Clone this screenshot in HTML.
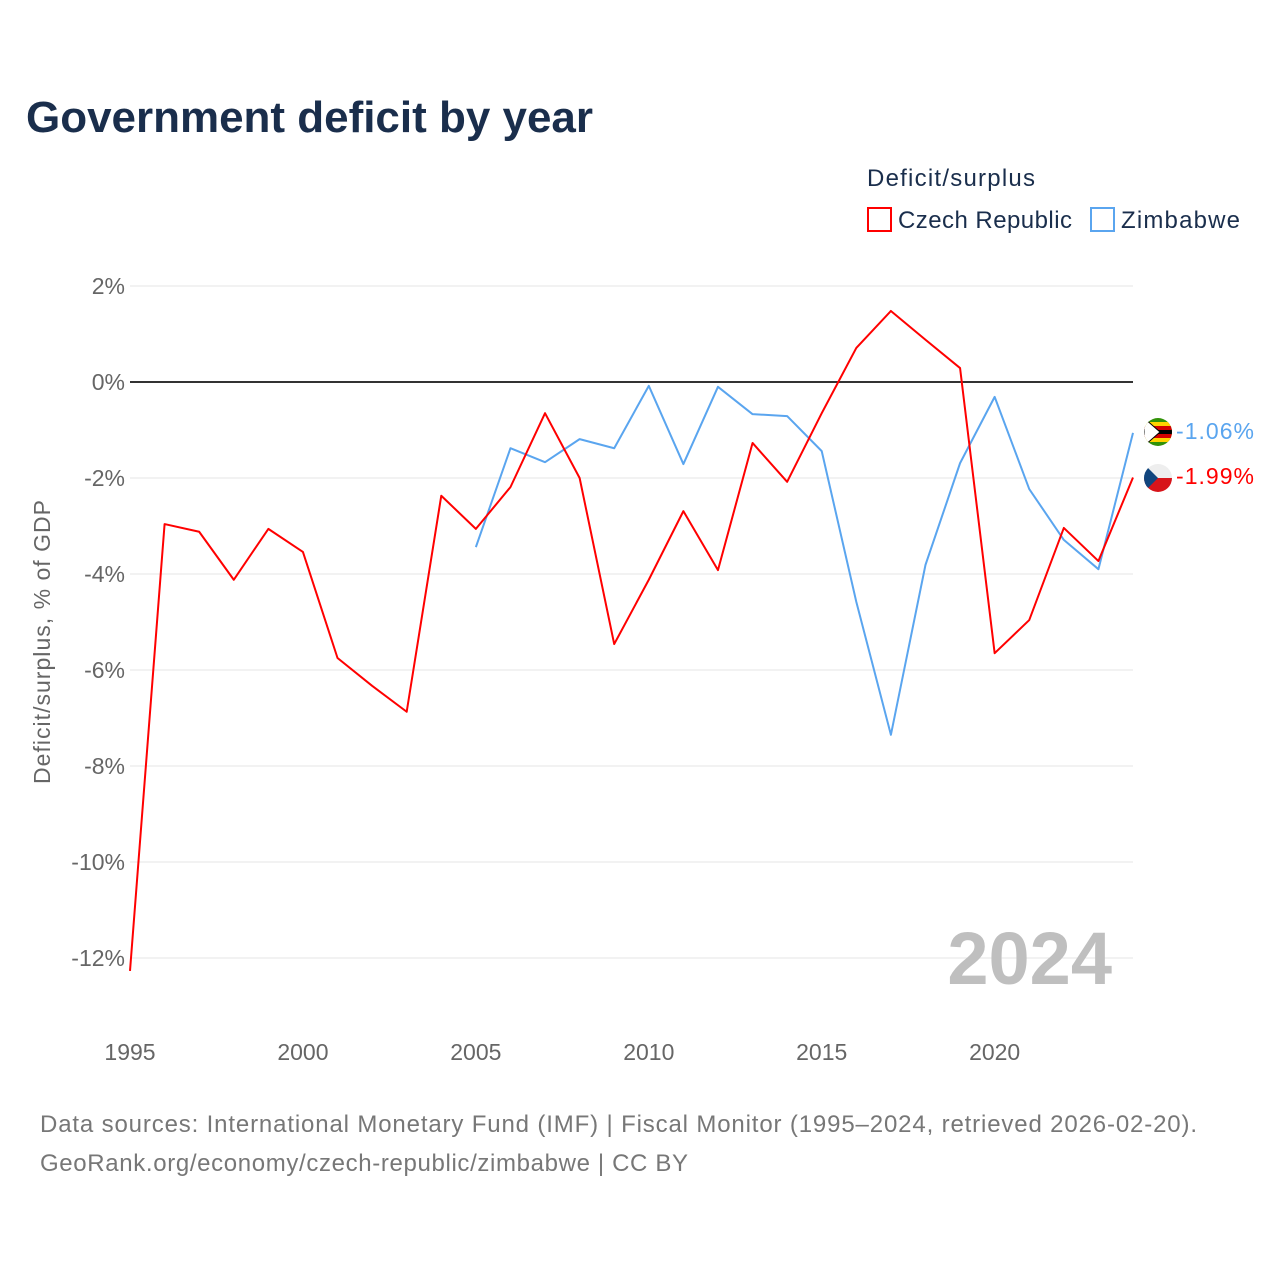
<!DOCTYPE html>
<html><head><meta charset="utf-8"><style>
body{margin:0;background:#fff;font-family:"Liberation Sans",sans-serif;}
svg text{font-family:"Liberation Sans",sans-serif;}
</style></head><body>
<svg width="1280" height="1280" xmlns="http://www.w3.org/2000/svg">
<text x="26" y="132" font-size="44" font-weight="bold" fill="#1a2e4c" textLength="567">Government deficit by year</text>
<text x="867" y="186" font-size="24" fill="#1a2e4c" textLength="168">Deficit/surplus</text>
<g><rect x="868" y="208" width="23" height="23" fill="none" stroke="#f00" stroke-width="2"/><text x="898" y="228" font-size="24" fill="#1a2e4c" textLength="174">Czech Republic</text></g>
<g><rect x="1091" y="208" width="23" height="23" fill="none" stroke="#5aa5ef" stroke-width="2"/><text x="1121" y="228" font-size="24" fill="#1a2e4c" textLength="119">Zimbabwe</text></g>
<g id="grid"></g><g id="xt"></g>
<text x="1112" y="984" font-size="74" font-weight="bold" fill="#bfbfbf" text-anchor="end">2024</text>
<text transform="translate(50,642) rotate(-90)" font-size="23" fill="#666" text-anchor="middle" textLength="284">Deficit/surplus, % of GDP</text>
<g id="lines"></g>
<g>
<clipPath id="cz1"><circle cx="1158" cy="432" r="14"/></clipPath>
<g clip-path="url(#cz1)"><rect x="1144" y="418" width="28" height="28" fill="#319208"/><rect x="1144" y="422" width="28" height="4" fill="#ffd200"/><rect x="1144" y="426" width="28" height="4" fill="#d40000"/><rect x="1144" y="430" width="28" height="4" fill="#000"/><rect x="1144" y="434" width="28" height="4" fill="#d40000"/><rect x="1144" y="438" width="28" height="4" fill="#ffd200"/><polygon points="1144,418 1160,432 1144,446" fill="#fff" stroke="#000"/></g></g>
<g>
<clipPath id="cz2"><circle cx="1158" cy="478" r="14"/></clipPath>
<g clip-path="url(#cz2)"><rect x="1144" y="464" width="28" height="14" fill="#eee"/><rect x="1144" y="478" width="28" height="14" fill="#d7141a"/><polygon points="1144,464 1158,478 1144,492" fill="#11457e"/></g></g>
<text x="1176" y="439" font-size="23" fill="#5aa5ef" textLength="78">-1.06%</text>
<text x="1176" y="484" font-size="23" fill="#f00" textLength="78">-1.99%</text>
<text x="40" y="1132" font-size="24" fill="#777" textLength="1157">Data sources: International Monetary Fund (IMF) | Fiscal Monitor (1995–2024, retrieved 2026-02-20).</text>
<text x="40" y="1171" font-size="24" fill="#777" textLength="648">GeoRank.org/economy/czech-republic/zimbabwe | CC BY</text>
</svg>
<script>
const yTicks=[2,0,-2,-4,-6,-8,-10,-12];
const xTicks=[1995,2000,2005,2010,2015,2020];
const czYears=[1995,1996,1997,1998,1999,2000,2001,2002,2003,2004,2005,2006,2007,2008,2009,2010,2011,2012,2013,2014,2015,2016,2017,2018,2019,2020,2021,2022,2023,2024];
const czValues=[-12.27,-2.96,-3.12,-4.12,-3.06,-3.54,-5.75,-6.33,-6.87,-2.37,-3.06,-2.19,-0.65,-2.0,-5.46,-4.12,-2.69,-3.92,-1.27,-2.08,-0.65,0.71,1.48,0.88,0.29,-5.65,-4.96,-3.04,-3.73,-1.99];
const zwYears=[2005,2006,2007,2008,2009,2010,2011,2012,2013,2014,2015,2016,2017,2018,2019,2020,2021,2022,2023,2024];
const zwValues=[-3.44,-1.38,-1.67,-1.19,-1.38,-0.08,-1.71,-0.1,-0.67,-0.71,-1.44,-4.58,-7.35,-3.81,-1.69,-0.31,-2.23,-3.29,-3.9,-1.06];
const NS="http://www.w3.org/2000/svg";
const x=v=>130+(v-1995)*(1133-130)/29;
const y=v=>382-v*48;
function mk(t,a,p){const e=document.createElementNS(NS,t);for(const k in a)e.setAttribute(k,a[k]);p.appendChild(e);return e;}
const g=document.getElementById('grid');
yTicks.forEach(t=>{
 const l=mk('line',{x1:130,x2:1133,y1:y(t),y2:y(t),stroke:t===0?'#333':'#e6e6e6','stroke-width':t===0?2:1},g);
 
 
 const tx=mk('text',{x:125,y:y(t)+8,'font-size':23,fill:'#666','text-anchor':'end'},g);
 tx.textContent=t+'%';
 
 
});
const xt=document.getElementById('xt');
xTicks.forEach(t=>{
 const tx=mk('text',{x:x(t),y:1060,'font-size':23,fill:'#666','text-anchor':'middle'},xt);
 tx.textContent=t;
 
 
});
const L=document.getElementById('lines');
function line(ys,vs,c,n){
 const p=mk('polyline',{points:ys.map((yr,i)=>x(yr)+','+y(vs[i])).join(' '),fill:'none',stroke:c,'stroke-width':2,'stroke-linejoin':'round'},L);
 
 
}
line(zwYears,zwValues,'#5aa5ef','line-zimbabwe');
line(czYears,czValues,'#f00','line-czech');
</script>
</body></html>
